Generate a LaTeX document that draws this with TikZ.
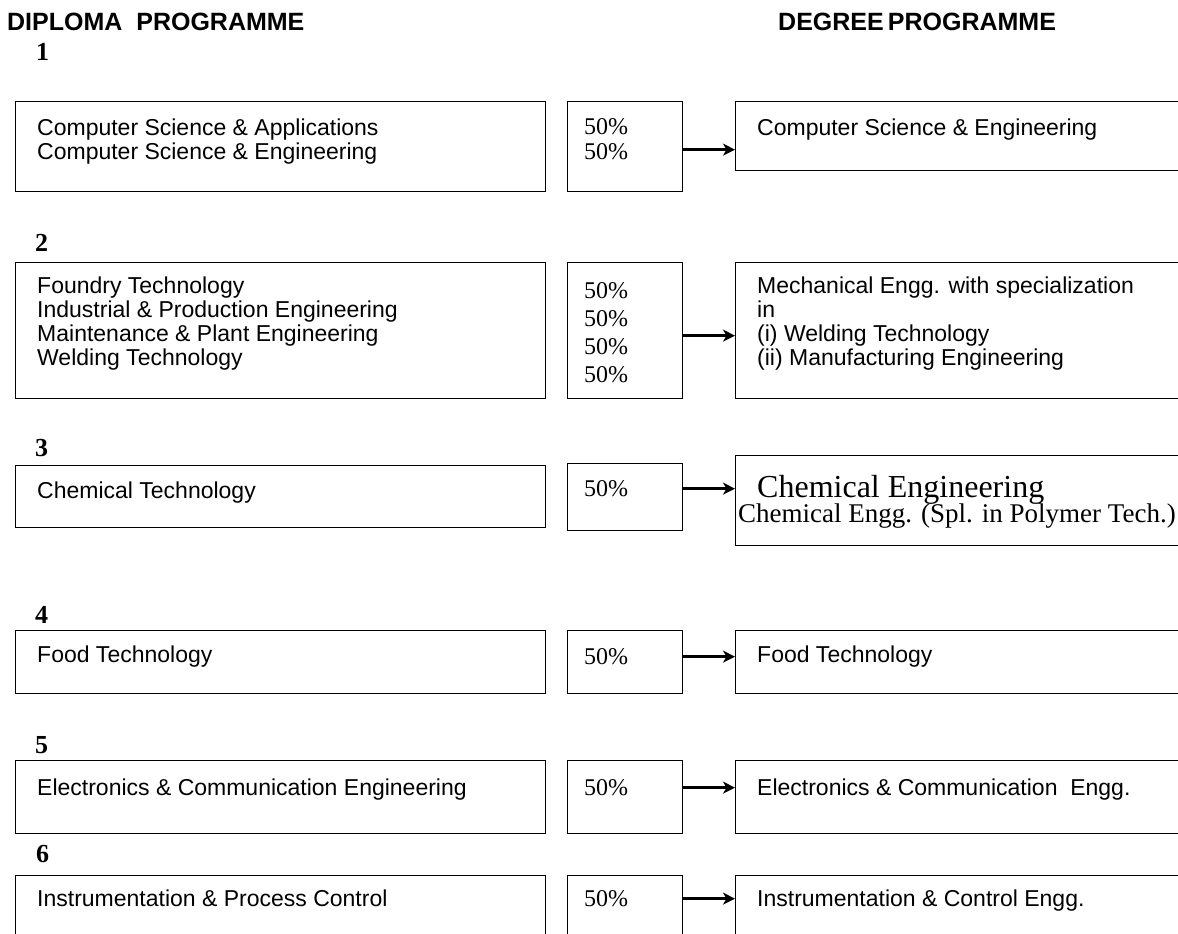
\documentclass[tikz,border=0pt]{standalone}
\usepackage{fontspec}
\setmainfont{Liberation Serif}
\setsansfont{Liberation Sans}
\usetikzlibrary{arrows.meta, positioning}

\begin{document}
\begin{tikzpicture}[x=1pt, y=-1pt,
  dipbox/.style={draw, line width=1.3pt, anchor=north west, inner sep=0pt, minimum width=530pt},
  pctbox/.style={draw, line width=1.3pt, anchor=north west, inner sep=0pt, minimum width=115pt},
  degbox/.style={draw, line width=1.3pt, anchor=north west, inner sep=0pt, minimum width=460pt},
  body/.style={font=\sffamily\fontsize{23}{24}\selectfont, align=left, inner sep=0pt},
  pct/.style={font=\rmfamily\fontsize{24}{25}\selectfont, align=left, inner sep=0pt},
  rowno/.style={font=\rmfamily\bfseries\fontsize{26}{26}\selectfont, anchor=west, inner sep=0pt},
  heading/.style={font=\sffamily\bfseries\fontsize{25}{25}\selectfont, anchor=west, inner sep=0pt},
  flow/.style={line width=3pt, -{Stealth[length=12pt, width=12pt, inset=3.5pt]}}]

\useasboundingbox (0,0) rectangle (1178,934);
\clip (0,0) rectangle (1178,934);

% headings
\node[heading] (diploma) at (7,22) {DIPLOMA\ \ PROGRAMME};
\node[heading] (degree) at (778,22) {DEGREE\,PROGRAMME};

% row 1
\node[rowno] (n1) at (36,52) {1};
\node[dipbox, minimum height=90pt] (dip1) at (15,101) {};
\node[pctbox, minimum height=90pt] (pct1) at (567,101) {};
\node[degbox, minimum height=69pt] (deg1) at (735,101) {};
\node[body, below right=17.5pt and 22pt of dip1.north west] (dip1t) {Computer Science \& Applications\\Computer Science \& Engineering};
\node[pct, below right=17pt and 17pt of pct1.north west] (pct1t) {50\%\\50\%};
\node[body, below right=17.5pt and 22pt of deg1.north west] (deg1t) {Computer Science \& Engineering};
\draw[flow] ([yshift=-3pt]pct1.east) -- ([yshift=-3pt]pct1.east -| deg1.west);

% row 2
\node[rowno] (n2) at (35,243) {2};
\node[dipbox, minimum height=136pt] (dip2) at (15,262) {};
\node[pctbox, minimum height=136pt] (pct2) at (567,262) {};
\node[degbox, minimum height=136pt] (deg2) at (735,262) {};
\node[body, below right=14.5pt and 22pt of dip2.north west] (dip2t) {Foundry Technology\\Industrial \& Production Engineering\\Maintenance \& Plant Engineering\\Welding Technology};
\node[pct, font=\rmfamily\fontsize{24}{28}\selectfont, below right=20pt and 17pt of pct2.north west] (pct2t) {50\%\\50\%\\50\%\\50\%};
\node[body, below right=14.5pt and 22pt of deg2.north west] (deg2t) {Mechanical Engg. with specialization\\in\\(i) Welding Technology\\(ii) Manufacturing Engineering};
\draw[flow] ([yshift=-5pt]pct2.east) -- ([yshift=-5pt]pct2.east -| deg2.west);

% row 3
\node[rowno] (n3) at (35,448) {3};
\node[dipbox, minimum height=62pt] (dip3) at (15,465) {};
\node[pctbox, minimum height=67pt] (pct3) at (567,463) {};
\node[degbox, minimum height=90pt] (deg3) at (735,455) {};
\node[body, below right=16.5pt and 22pt of dip3.north west] (dip3t) {Chemical Technology};
\node[pct, below right=17pt and 17pt of pct3.north west] (pct3t) {50\%};
\node[pct, font=\rmfamily\fontsize{32}{32}\selectfont, below right=20pt and 22pt of deg3.north west] (deg3t) {Chemical Engineering};
\node[pct, font=\rmfamily\fontsize{27}{27}\selectfont, below right=49pt and 3pt of deg3.north west] (deg3s) {Chemical Engg. (Spl. in Polymer Tech.)};
\draw[flow] ([yshift=8.5pt]pct3.east) -- ([yshift=8.5pt]pct3.east -| deg3.west);

% row 4
\node[rowno] (n4) at (35,615) {4};
\node[dipbox, minimum height=63pt] (dip4) at (15,630) {};
\node[pctbox, minimum height=63pt] (pct4) at (567,630) {};
\node[degbox, minimum height=63pt] (deg4) at (735,630) {};
\node[body, below right=15.5pt and 22pt of dip4.north west] (dip4t) {Food Technology};
\node[pct, below right=18pt and 17pt of pct4.north west] (pct4t) {50\%};
\node[body, below right=15.5pt and 22pt of deg4.north west] (deg4t) {Food Technology};
\draw[flow] ([yshift=5.5pt]pct4.east) -- ([yshift=5.5pt]pct4.east -| deg4.west);

% row 5
\node[rowno] (n5) at (35,745) {5};
\node[dipbox, minimum height=73pt] (dip5) at (15,760) {};
\node[pctbox, minimum height=73pt] (pct5) at (567,760) {};
\node[degbox, minimum height=73pt] (deg5) at (735,760) {};
\node[body, below right=18.5pt and 22pt of dip5.north west] (dip5t) {Electronics \& Communication Engineering};
\node[pct, below right=19.5pt and 17pt of pct5.north west] (pct5t) {50\%};
\node[body, below right=18.5pt and 22pt of deg5.north west] (deg5t) {Electronics \& Communication\ \ Engg.};
\draw[flow] ([yshift=9.5pt]pct5.east) -- ([yshift=9.5pt]pct5.east -| deg5.west);

% row 6
\node[rowno] (n6) at (36,854) {6};
\node[dipbox, minimum height=80pt] (dip6) at (15,875) {};
\node[pctbox, minimum height=80pt] (pct6) at (567,875) {};
\node[degbox, minimum height=80pt] (deg6) at (735,875) {};
\node[body, below right=14.5pt and 22pt of dip6.north west] (dip6t) {Instrumentation \& Process Control};
\node[pct, below right=15.5pt and 17pt of pct6.north west] (pct6t) {50\%};
\node[body, below right=14.5pt and 22pt of deg6.north west] (deg6t) {Instrumentation \& Control Engg.};
\draw[flow] ([yshift=17pt]pct6.east) -- ([yshift=17pt]pct6.east -| deg6.west);
\end{tikzpicture}
\end{document}
